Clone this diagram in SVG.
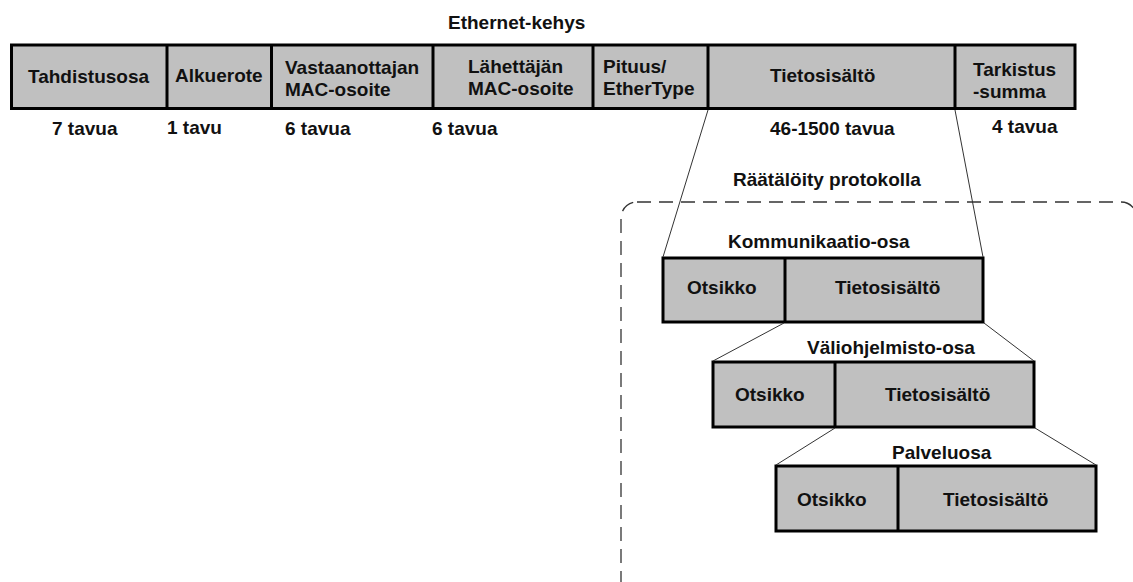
<svg xmlns="http://www.w3.org/2000/svg" width="1133" height="582" viewBox="0 0 1133 582">
<style>
.t{font-family:"Liberation Sans",Arial,sans-serif;font-weight:bold;font-size:19px;fill:#111}
.box{fill:#c0c0c0;stroke:#000;stroke-width:3}
.div{stroke:#000;stroke-width:3}
.con{stroke:#333;stroke-width:1;fill:none}
</style>
<rect width="1133" height="582" fill="#fff"/>
<g id="title"><text class="t" x="448" y="29">Ethernet-kehys</text></g>
<g id="ethernet-frame">
<rect class="box" x="11.5" y="45" width="1063.5" height="63.5"/>
<line class="div" x1="167" y1="45" x2="167" y2="108.5"/>
<line class="div" x1="271.5" y1="45" x2="271.5" y2="108.5"/>
<line class="div" x1="433" y1="45" x2="433" y2="108.5"/>
<line class="div" x1="593" y1="45" x2="593" y2="108.5"/>
<line class="div" x1="708" y1="45" x2="708" y2="108.5"/>
<line class="div" x1="955" y1="45" x2="955" y2="108.5"/>
<text class="t" x="28" y="83">Tahdistusosa</text>
<text class="t" x="175" y="82">Alkuerote</text>
<text class="t" x="285" y="74">Vastaanottajan</text>
<text class="t" x="285" y="96">MAC-osoite</text>
<text class="t" x="468" y="73">Lähettäjän</text>
<text class="t" x="468" y="95">MAC-osoite</text>
<text class="t" x="603" y="73">Pituus/</text>
<text class="t" x="603" y="95">EtherType</text>
<text class="t" x="770" y="82">Tietosisältö</text>
<text class="t" x="973" y="76">Tarkistus</text>
<text class="t" x="973" y="98">-summa</text>
</g>
<g id="sizes">
<text class="t" x="52" y="135">7 tavua</text>
<text class="t" x="167" y="134">1 tavu</text>
<text class="t" x="285" y="135">6 tavua</text>
<text class="t" x="432" y="135">6 tavua</text>
<text class="t" x="770" y="135">46-1500 tavua</text>
<text class="t" x="992" y="133">4 tavua</text>
</g>
<g id="custom-protocol">
<rect x="621" y="202" width="516" height="420" rx="16" ry="16" fill="none" stroke="#333" stroke-width="1.3" stroke-dasharray="14 8"/>
<text class="t" x="733" y="186">Räätälöity protokolla</text>
</g>
<g id="kommunikaatio">
<text class="t" x="728" y="248">Kommunikaatio-osa</text>
<rect class="box" x="663" y="258" width="320" height="64"/>
<line class="div" x1="785" y1="258" x2="785" y2="322"/>
<text class="t" x="687" y="294">Otsikko</text>
<text class="t" x="835" y="294">Tietosisältö</text>
</g>
<g id="valiohjelmisto">
<text class="t" x="807" y="354">Väliohjelmisto-osa</text>
<rect class="box" x="713" y="362" width="321" height="65"/>
<line class="div" x1="835" y1="362" x2="835" y2="427"/>
<text class="t" x="735" y="401">Otsikko</text>
<text class="t" x="885" y="401">Tietosisältö</text>
</g>
<g id="palvelu">
<text class="t" x="892" y="459">Palveluosa</text>
<rect class="box" x="776" y="466" width="320" height="65"/>
<line class="div" x1="898" y1="466" x2="898" y2="531"/>
<text class="t" x="797" y="506">Otsikko</text>
<text class="t" x="943" y="506">Tietosisältö</text>
</g>
<g id="connectors">
<line class="con" x1="708" y1="110" x2="663" y2="257"/>
<line class="con" x1="955" y1="110" x2="983" y2="257"/>
<line class="con" x1="784" y1="323" x2="713" y2="361"/>
<line class="con" x1="984" y1="323" x2="1034" y2="361"/>
<line class="con" x1="835" y1="428" x2="776" y2="465"/>
<line class="con" x1="1035" y1="428" x2="1096" y2="465"/>
</g>
</svg>
